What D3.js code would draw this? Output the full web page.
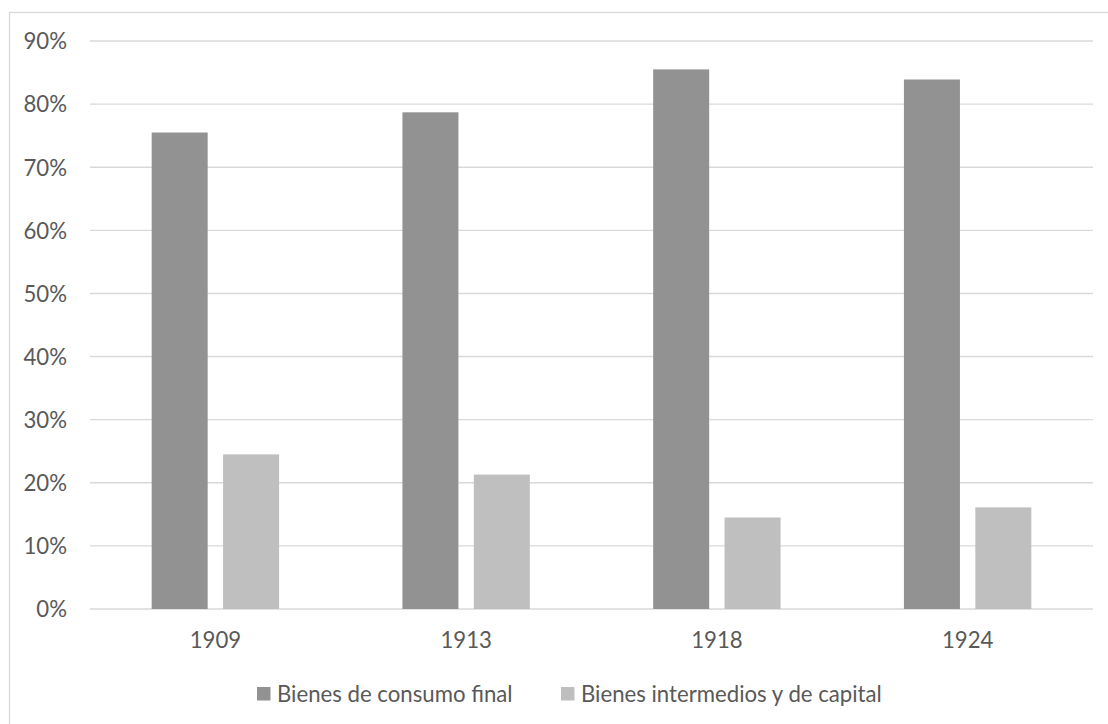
<!DOCTYPE html>
<html>
<head>
<meta charset="utf-8">
<script src="https://cdn.jsdelivr.net/npm/d3@7"></script>
<style>
  html, body { margin: 0; padding: 0; background: #fff; }
  svg { display: block; }
  text { font-family: Lato, "Open Sans", sans-serif; fill: #595959; }
</style>
</head>
<body>
<svg id="chart" width="1108" height="724"></svg>
<script>
const categories = ["1909", "1913", "1918", "1924"];
const seriesNames = ["Bienes de consumo final", "Bienes intermedios y de capital"];
const consumoFinal = [75.5, 78.7, 85.5, 83.9];
const intermediosCapital = [24.5, 21.3, 14.5, 16.1];
const yTicks = [0, 10, 20, 30, 40, 50, 60, 70, 80, 90];
const colors = ["#929292", "#bfbfbf"];

const W = 1108, H = 724;
const FS = 22.2;
const plot = { left: 90, right: 1093, top: 41, bottom: 609 };
const svg = d3.select("#chart");

// chart frame (left and top edges visible)
svg.append("rect")
  .attr("x", 9.5).attr("y", 12.5)
  .attr("width", W + 20).attr("height", H + 20)
  .attr("fill", "none").attr("stroke", "#d9d9d9").attr("stroke-width", 1.3);

const x = d3.scaleBand().domain(categories).range([plot.left, plot.right]);
const y = d3.scaleLinear().domain([0, 90]).range([plot.bottom, plot.top]);

// gridlines
svg.append("g").selectAll("line").data(yTicks).join("line")
  .attr("x1", plot.left).attr("x2", plot.right)
  .attr("y1", d => y(d)).attr("y2", d => y(d))
  .attr("stroke", "#d9d9d9").attr("stroke-width", 1.4);

// y axis labels
const yAxis = d3.axisLeft(y).tickValues(yTicks).tickFormat(d => d + "%").tickSize(0).tickPadding(0);
const yg = svg.append("g").attr("transform", `translate(67,0)`).call(yAxis);
yg.select(".domain").remove();
yg.selectAll("text").attr("font-size", FS).attr("font-family", "Lato").attr("fill", "#595959").attr("dy", "0.35em");

// bars
const barW = 56, inner = 15.4;
const data = categories.map((c, i) => ({ c, vals: [consumoFinal[i], intermediosCapital[i]] }));
const groups = svg.append("g").selectAll("g").data(data).join("g");
groups.selectAll("rect").data(d => d.vals.map((v, k) => ({ c: d.c, v, k }))).join("rect")
  .attr("x", d => x(d.c) + x.bandwidth() / 2 + (d.k === 0 ? -inner / 2 - barW : inner / 2))
  .attr("width", barW)
  .attr("y", d => y(d.v))
  .attr("height", d => y(0) - y(d.v))
  .attr("fill", d => colors[d.k]);

// x axis labels
const xAxis = d3.axisBottom(x).tickSize(0).tickPadding(0);
const xg = svg.append("g").attr("transform", `translate(0,${plot.bottom})`).call(xAxis);
xg.select(".domain").remove();
xg.selectAll("text").attr("font-size", FS).attr("font-family", "Lato").attr("fill", "#595959")
  .attr("y", 31).attr("dy", "0.35em");

// legend
const legendX = [257, 561];
const leg = svg.append("g").selectAll("g").data(seriesNames).join("g")
  .attr("transform", (d, i) => `translate(${legendX[i]},687)`);
leg.append("rect").attr("width", 13.5).attr("height", 13.5).attr("fill", (d, i) => colors[i]);
leg.append("text").attr("x", 20).attr("y", 7).attr("dy", "0.35em")
  .attr("font-size", FS).text(d => d);
</script>
</body>
</html>
